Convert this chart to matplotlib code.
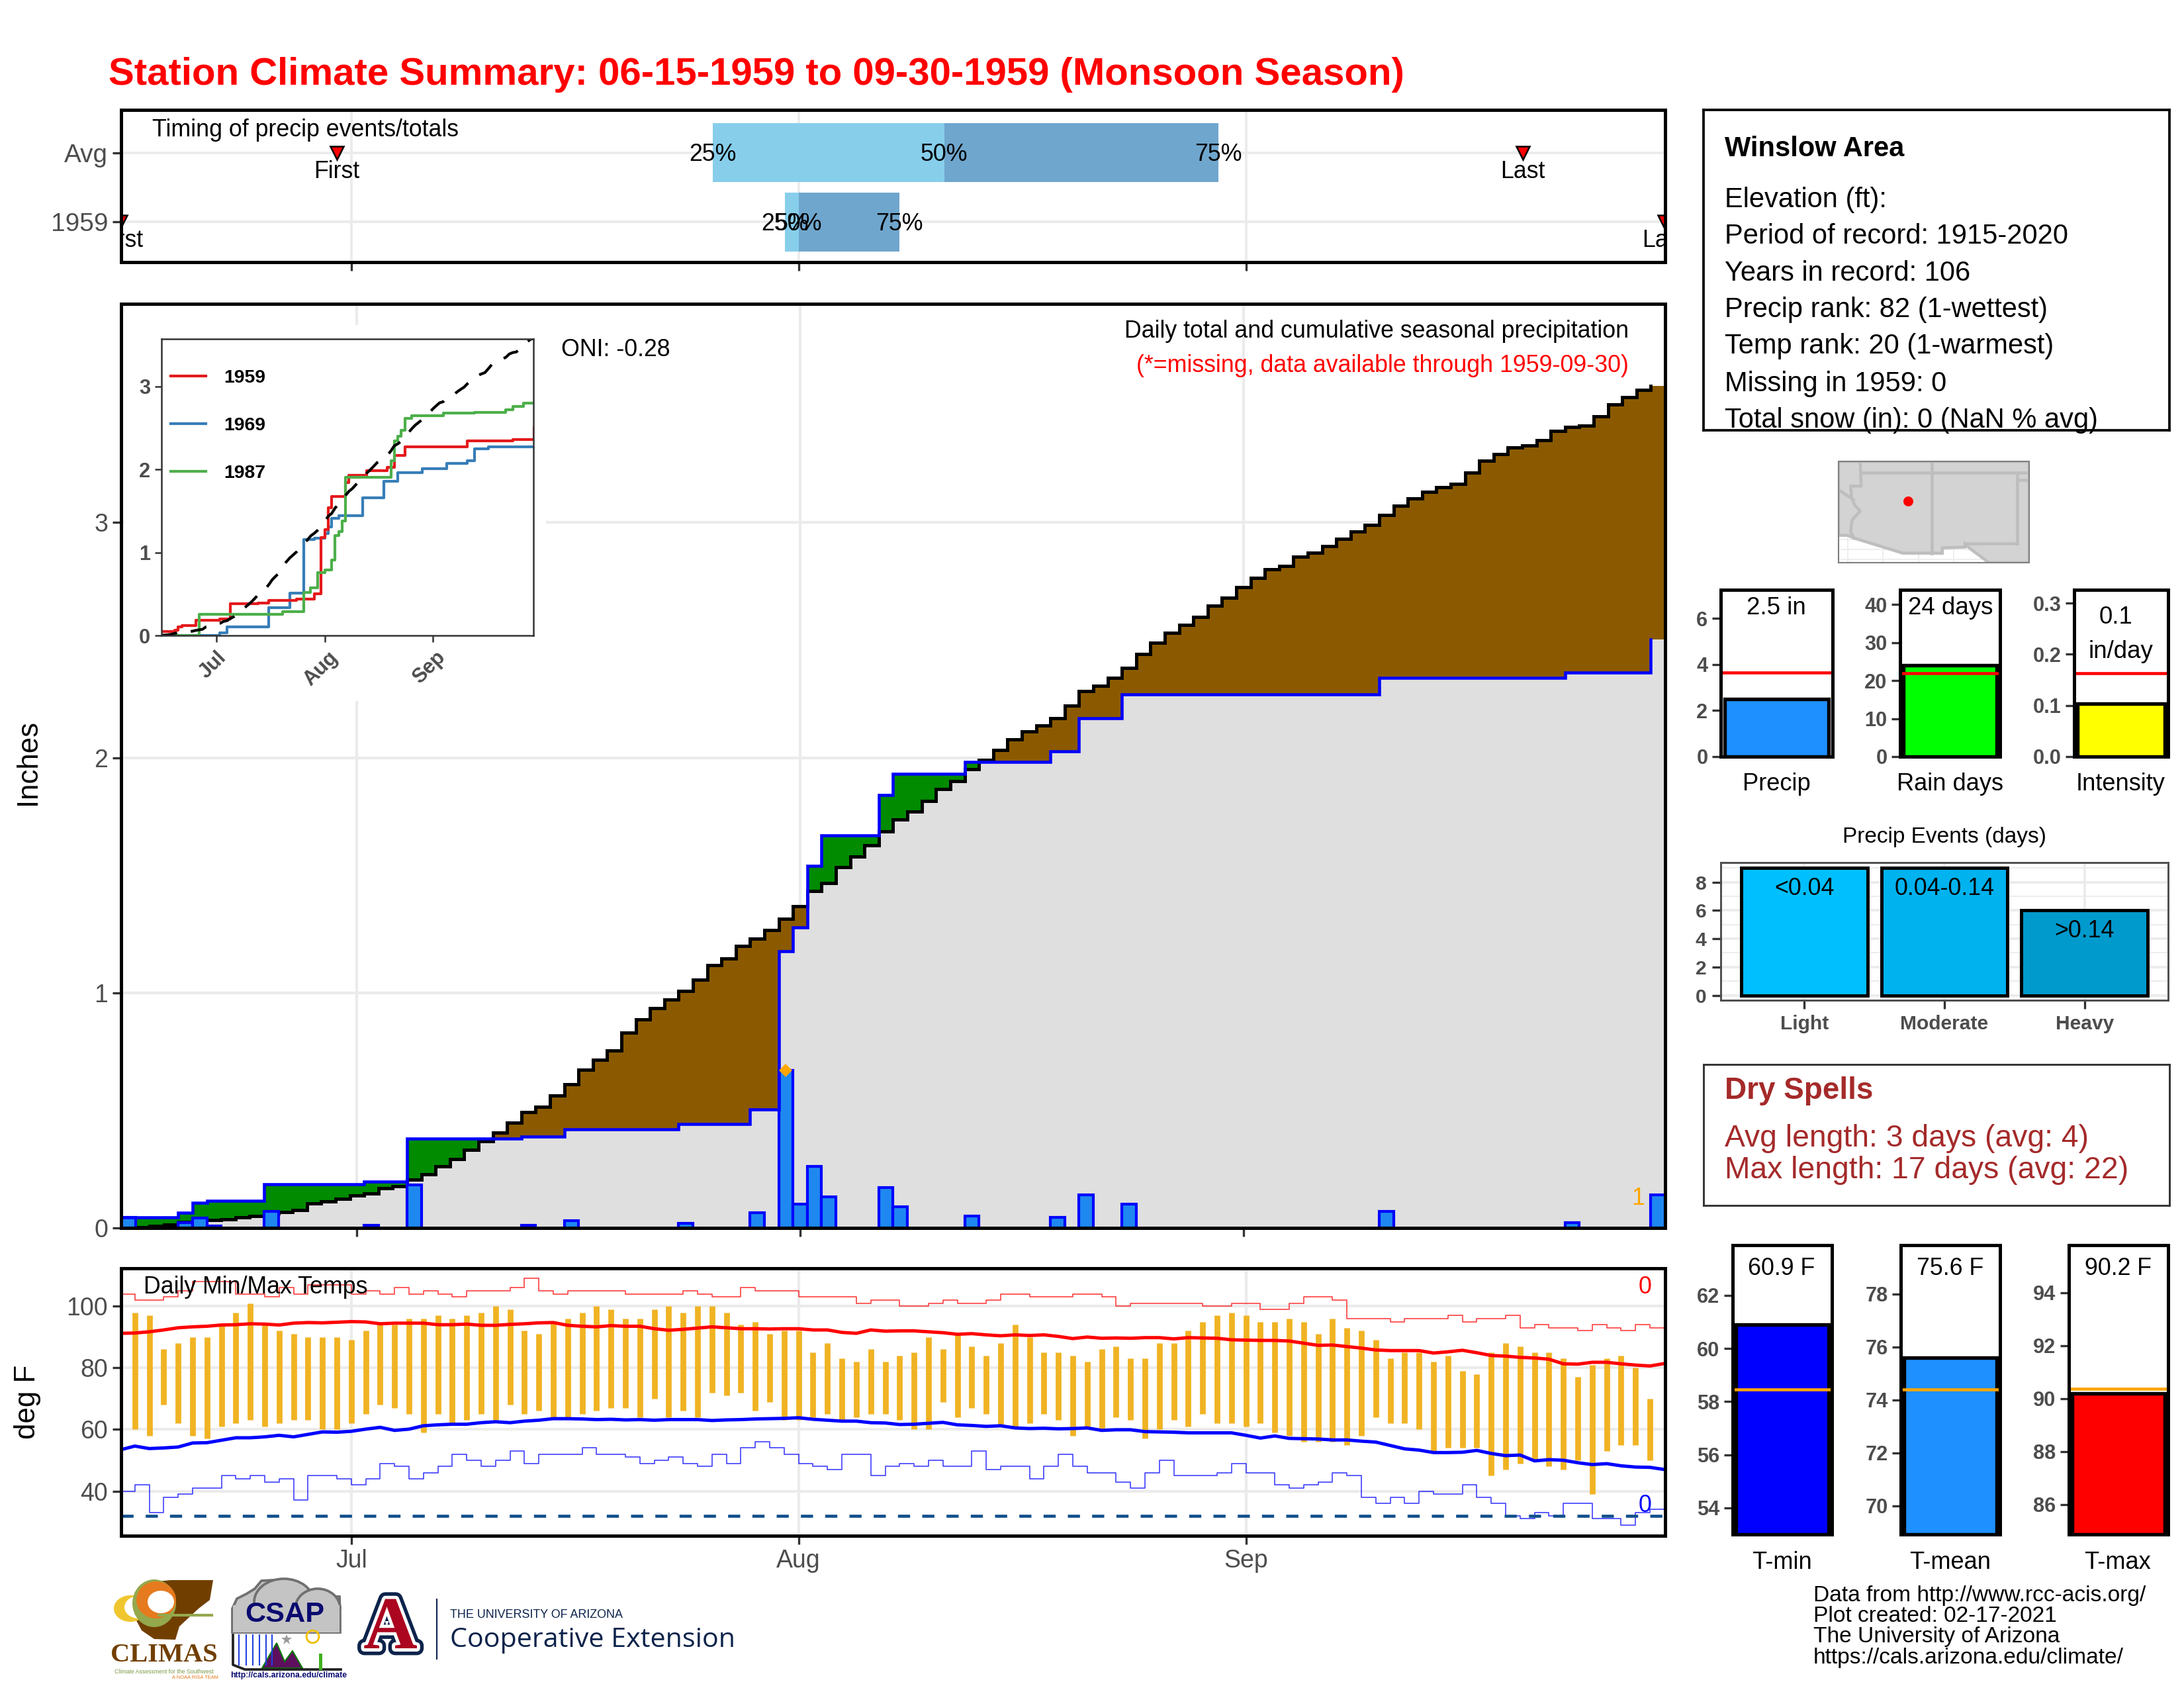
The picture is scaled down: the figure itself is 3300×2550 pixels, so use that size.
#! /usr/bin/python3
import numpy as np
import matplotlib
matplotlib.use("Agg")
import matplotlib.pyplot as plt
import matplotlib.patheffects as pe
from matplotlib.patches import Polygon, Ellipse, Rectangle
from matplotlib.transforms import ScaledTranslation

plt.rcParams['font.family'] = ['Liberation Sans', 'DejaVu Sans']

W, H = 3300, 2550

# days are counted from Jun 15 (day 0), Sep 30 is day 107
days = np.arange(108)
month_days = [16, 47, 78]
month_labels = ['Jul', 'Aug', 'Sep']

# daily precip, 1959
wet_days = [0, 4, 5, 6, 10, 17, 20, 28, 31, 39, 44, 46, 47, 48, 49, 53, 54, 59, 65, 67, 70, 88, 101, 107]
wet_amounts = [.044, .022, .041, .009, .071, .010, .182, .010, .031, .021, .064, .671, .102, .261, .131,
               .171, .091, .051, .044, .141, .100, .071, .022, .141]

# long term average cumulative precip
avg_cum = [.002, .004, .008, .014, .025, .035, .035, .038, .045, .051,
           .061, .068, .075, .105, .113, .124, .137, .146, .169, .178,
           .206, .227, .263, .292, .332, .368, .404, .447, .492, .514,
           .563, .612, .673, .715, .755, .830, .886, .934, .971, 1.008,
           1.057, 1.119, 1.146, 1.199, 1.229, 1.267, 1.315, 1.367, 1.434, 1.468,
           1.534, 1.579, 1.626, 1.687, 1.736, 1.771, 1.817, 1.867, 1.901, 1.952,
           1.991, 2.033, 2.079, 2.110, 2.137, 2.168, 2.221, 2.284, 2.307, 2.340,
           2.383, 2.440, 2.489, 2.532, 2.566, 2.598, 2.647, 2.680, 2.726, 2.765,
           2.801, 2.814, 2.854, 2.871, 2.899, 2.932, 2.962, 2.989, 3.032, 3.071,
           3.103, 3.131, 3.149, 3.165, 3.213, 3.264, 3.291, 3.320, 3.328, 3.349,
           3.389, 3.406, 3.413, 3.452, 3.501, 3.532, 3.563, 3.580]

# analog years for the inset, day of change and new total
y1969_days = [0, 17, 19, 31, 37, 41, 44, 47, 48, 49, 51, 58, 64, 68, 75, 82, 88, 90, 94, 107]
y1969_vals = [0, .03, .10, .335, .51, 1.156, 1.175, 1.23, 1.31, 1.41, 1.445, 1.66, 1.86, 1.96, 2.01, 2.07, 2.10, 2.25, 2.275, 2.275]
y1987_days = [0, 11, 35, 41, 43, 45, 47, 49, 50, 51, 52, 53, 66, 67, 68, 69, 70, 72, 81, 90, 99, 101, 104, 107]
y1987_vals = [0, .257, .29, .52, .57, .757, .79, .91, 1.206, 1.25, 1.376, 1.908, 2.10, 2.34, 2.40, 2.47, 2.615, 2.647, 2.674, 2.688, 2.72, 2.76, 2.80, 2.80]

# daily temps
nan = float('nan')
tmax = [nan, 98, 97, 86, 88, 90, 90, 94, 98, 101, 94,
        92, 91, 90, 90, 90, 89, 92, 95, 94, 96,
        96, 97, 96, 97, 98, 100, 99, 92, 91, 95,
        96, 98, 100, 99, 96, 96, 99, 100, 98, 100,
        100, 98, 94, 95, 91, 92, 92, 85, 88, 83,
        82, 86, 82, 84, 85, 90, 86, 91, 87, 84,
        88, 94, 90, 85, 85, 84, 82, 86, 87, 83,
        83, 88, 88, 92, 95, 97, 98, 97, 95, 95,
        96, 95, 91, 96, 93, 92, 89, 83, 85, 85,
        82, 84, 79, 78, 85, 88, 87, 85, 85, 83,
        77, 81, 83, 84, 80, 70, nan]
tmin = [nan, 60, 58, 68, 62, 58, 57, 61, 62, 63, 61,
        62, 63, 63, 60, 60, 62, 65, 68, 67, 65,
        59, 65, 62, 63, 65, 63, 68, 65, 66, 64,
        64, 65, 66, 67, 67, 64, 70, 64, 66, 64,
        72, 71, 72, 66, 69, 63, 63, 64, 65, 63,
        64, 65, 65, 63, 60, 60, 69, 64, 67, 65,
        61, 61, 62, 65, 63, 58, 60, 60, 64, 63,
        57, 60, 63, 61, 65, 62, 62, 61, 62, 59,
        58, 56, 56, 56, 55, 58, 64, 62, 62, 60,
        53, 54, 54, 54, 45, 47, 49, 50, 48, 47,
        50, 39, 53, 55, 55, 50, nan]
avg_tmax = [91.2, 91.3, 91.7, 92.3, 93.0, 93.3, 93.5, 93.9, 94.0, 94.3,
            94.2, 93.9, 94.5, 94.7, 94.6, 94.8, 95.0, 94.9, 94.3, 94.5,
            94.5, 94.5, 94.0, 94.0, 94.2, 93.8, 93.8, 94.1, 94.3, 94.6,
            94.7, 93.8, 93.5, 93.3, 93.7, 93.5, 93.5, 92.7, 92.2, 92.5,
            92.9, 93.3, 93.0, 92.7, 92.7, 92.6, 92.7, 92.7, 92.3, 92.3,
            91.5, 91.2, 92.3, 91.9, 92.0, 92.0, 91.7, 91.4, 90.9, 91.1,
            90.7, 90.4, 90.7, 90.5, 90.7, 90.2, 89.5, 90.0, 89.6, 89.7,
            89.6, 89.8, 89.8, 89.4, 89.8, 89.7, 89.6, 89.1, 89.0, 88.9,
            88.9, 88.7, 88.0, 87.3, 87.4, 86.9, 86.4, 85.8, 85.6, 85.6,
            85.6, 84.8, 85.2, 85.7, 84.9, 84.0, 83.8, 83.4, 83.2, 82.8,
            81.3, 81.2, 81.8, 81.8, 81.3, 80.9, 80.6, 81.4]
avg_tmin = [53.4, 54.6, 53.8, 54.0, 54.3, 55.6, 55.7, 56.5, 57.3, 57.3,
            57.6, 58.1, 57.6, 58.4, 59.2, 59.1, 59.4, 60.1, 60.7, 59.7,
            60.1, 61.2, 61.5, 61.7, 61.7, 62.2, 62.5, 62.2, 62.7, 63.0,
            63.5, 63.5, 63.4, 63.2, 63.3, 63.1, 63.2, 63.0, 63.2, 63.2,
            63.2, 62.9, 63.1, 63.2, 63.4, 63.5, 63.6, 63.8, 63.3, 63.0,
            62.7, 62.7, 62.2, 62.1, 61.6, 61.7, 62.0, 62.3, 61.5, 61.3,
            61.0, 61.2, 60.5, 60.3, 60.4, 60.2, 60.3, 60.5, 59.7, 59.9,
            59.9, 59.3, 59.2, 59.1, 58.9, 58.9, 58.9, 58.9, 58.1, 57.2,
            57.9, 57.1, 57.0, 56.9, 56.6, 56.6, 56.2, 55.9, 54.8, 53.7,
            53.3, 52.5, 52.5, 52.6, 53.2, 52.2, 51.5, 51.7, 49.8, 50.2,
            50.0, 49.2, 48.6, 48.9, 48.2, 47.8, 47.7, 47.0]
rec_hi = [104, 102, 102, 103, 105, 108, 108, 108, 104, 104,
          103, 106, 104, 107, 107, 107, 104, 105, 104, 106,
          104, 105, 104, 103, 105, 105, 105, 106, 109, 105,
          104, 105, 105, 105, 105, 104, 104, 104, 104, 105,
          104, 103, 103, 106, 105, 105, 105, 103, 103, 103,
          103, 101, 102, 102, 100, 100, 101, 102, 101, 101,
          102, 104, 104, 103, 103, 103, 104, 104, 103, 100,
          101, 101, 101, 101, 101, 100, 100, 101, 101, 99,
          99, 101, 103, 103, 102, 96, 96, 96, 95, 96,
          96, 96, 97, 95, 96, 96, 97, 93, 94, 93,
          93, 92, 94, 93, 92, 94, 93, 93]
rec_lo = [40, 42, 33, 38, 39, 41, 41, 45, 44, 45,
          43, 44, 37, 45, 45, 44, 42, 44, 49, 48,
          44, 46, 48, 52, 50, 48, 50, 53, 49, 52,
          52, 52, 54, 52, 52, 51, 49, 50, 51, 49,
          48, 52, 49, 54, 56, 54, 52, 49, 48, 47,
          52, 52, 45, 48, 49, 48, 50, 48, 48, 53,
          47, 48, 48, 44, 48, 52, 48, 46, 46, 43,
          41, 46, 50, 45, 45, 45, 46, 49, 46, 46,
          42, 41, 42, 43, 46, 45, 38, 36, 38, 36,
          40, 39, 39, 42, 38, 36, 32, 31, 33, 32,
          36, 36, 31, 31, 29, 33, 34, 34]
freeze_line = 32

# timing panel, quartiles and first/last events
timing_rows = ['1959', 'Avg']
q25 = [46.05, 41.04]
q50 = [47.0, 57.09]
q75 = [54.0, 76.1]
first_day = [0, 15]
last_day = [107, 97.2]

# summary bars
summary_names = ['Precip', 'Rain days', 'Intensity']
summary_vals = [2.5, 24, 0.103]
summary_avg = [3.64, 22.0, 0.163]
temp_names = ['T-min', 'T-mean', 'T-max']
temp_vals = [60.9, 75.6, 90.2]
temp_avg = [58.45, 74.4, 90.37]
event_names = ['Light', 'Moderate', 'Heavy']
event_vals = [9, 9, 6]
event_labels = ['<0.04', '0.04-0.14', '>0.14']

# map outline, lon/lat
land_lon = [-115.66, -115.0, -114.58, -111.1, -108.3, -108.3, -106.7, -106.7, -106.27, -105.0, -102.15, -102.15, -115.66]
land_lat = [32.59, 32.59, 32.4, 31.33, 31.33, 31.7, 31.76, 31.98, 31.6, 30.66, 30.66, 37.8, 37.8]
river_lon = [-114.13, -114.05, -114.8, -114.74, -114.5, -114.13, -114.7, -114.8, -114.58]
river_lat = [37.8, 36.06, 36.06, 35.26, 34.7, 34.3, 33.66, 32.85, 32.4]
station_lon, station_lat = -110.72, 35.02

GRID = '#EBEBEB'
TICK = '#333333'
LAB = '#4D4D4D'


def axes_px(x0, y0, x1, y1, **kw):
    # axes from pixel box, y counted from the top of the picture
    return fig.add_axes([x0 / W, 1 - y1 / H, (x1 - x0) / W, (y1 - y0) / H], **kw)


def text_px(x, y, s, **kw):
    kw.setdefault('va', 'center')
    kw.setdefault('ha', 'left')
    kw.setdefault('color', 'black')
    kw.setdefault('fontsize', 8.6)
    return fig.text(x / W, 1 - (y + 4) / H, s, **kw)


def frame(ax, lw=1.2, color='black'):
    for s in ax.spines.values():
        s.set_linewidth(lw)
        s.set_color(color)
        s.set_zorder(10)


def mid_step(vals):
    # step through day centres, last day has no flat part
    edges = np.arange(109) - 0.5
    x = np.r_[-0.5, np.repeat(edges[1:-1], 2)]
    y = np.repeat(vals, 2)[:-1]
    return x, y


fig = plt.figure(figsize=(11, 8.5), dpi=300)

text_px(164, 109, 'Station Climate Summary: 06-15-1959 to 09-30-1959 (Monsoon Season)',
        color='#FF0000', fontweight='bold', fontsize=13.95)

# ---- timing panel
ax = axes_px(183, 166, 2516, 396)
ax.set_xlim(0.05, 107.05)
ax.set_ylim(0.42, 2.62)
ax.set_axisbelow(True)
ax.grid(True, color=GRID, lw=0.9)
rows = np.arange(1, 3)
ax.barh(rows, np.array(q50) - np.array(q25), left=q25, height=0.85, color='#87CEEB', zorder=2)
ax.barh(rows, np.array(q75) - np.array(q50), left=q50, height=0.85, color='#6FA6CD', zorder=2)
for i, r in enumerate(rows):
    for q, lab in zip((q25[i], q50[i], q75[i]), ('25%', '50%', '75%')):
        ax.text(q, r - 0.03, lab, ha='center', va='center', fontsize=8.6, zorder=4)
    for d, lab in zip((first_day[i], last_day[i]), ('First', 'Last')):
        ax.plot(d, r, 'v', color='red', mec='black', mew=0.6, ms=5, zorder=5, clip_on=True)
        ax.text(d, r - 0.27, lab, ha='center', va='center', fontsize=8.6, zorder=4, clip_on=True)
ax.set_yticks(rows, timing_rows, color=LAB, fontsize=9.3)
ax.set_xticks(month_days, [])
ax.tick_params(color=TICK, width=0.8, length=3.2, pad=1.6)
frame(ax)
text_px(230, 193, 'Timing of precip events/totals')

# ---- main precip panel
obs_daily = np.zeros(108)
obs_daily[wet_days] = wet_amounts
obs_cum = np.cumsum(obs_daily)
avg_cum = np.array(avg_cum)
low = np.minimum(obs_cum, avg_cum)
edges = np.arange(109) - 0.5

ax = axes_px(183, 459, 2516, 1855)
ax.set_xlim(-0.5, 107.5)
ax.set_ylim(0, 3.93)
ax.set_axisbelow(True)
ax.grid(True, color=GRID, lw=1.0)
ax.fill_between(edges, 0, np.r_[low, low[-1]], step='post', color='#DFDFDF', lw=0, zorder=1)
ax.fill_between(edges, np.r_[low, low[-1]], np.r_[avg_cum, avg_cum[-1]], step='post', color='#8B5A00', lw=0, zorder=1.5)
ax.fill_between(edges, np.r_[low, low[-1]], np.r_[obs_cum, obs_cum[-1]], step='post', color='#008B00', lw=0, zorder=1.5)
x, y = mid_step(avg_cum)
ax.plot(x, y, color='black', lw=1.2, zorder=3, solid_joinstyle='miter')
ax.bar(wet_days, wet_amounts, width=1, color='#1E88F0', edgecolor='blue', lw=1.0, zorder=4)
x, y = mid_step(obs_cum)
ax.plot(x, y, color='blue', lw=1.1, zorder=5, solid_joinstyle='miter')
ax.plot(days[np.argmax(obs_daily)], obs_daily.max(), 'D', color='orange', ms=3.4, mew=0, zorder=6)
ax.set_yticks([0, 1, 2, 3])
ax.set_xticks(month_days, [])
ax.tick_params(color=TICK, width=0.8, length=3.2, pad=1.6, labelcolor=LAB, labelsize=9)
frame(ax)
text_px(848, 524, 'ONI: -0.28')
text_px(2461, 497, 'Daily total and cumulative seasonal precipitation', ha='right')
text_px(2461, 549, '(*=missing, data available through 1959-09-30)', ha='right', color='red')
text_px(2475, 1806, '1', color='orange', ha='center')
text_px(42, 1148, 'Inches', rotation=90, ha='center', fontsize=10.5)

# inset sits on a white block that hides the grid
blank = axes_px(187, 491, 825, 1059)
blank.axis('off')
blank.add_patch(Rectangle((0, 0), 1, 1, color='white', transform=blank.transAxes))

ins = axes_px(244, 512, 806, 960)
ins.set_xlim(0.2, 106.9)
ins.set_ylim(0, 3.57)
ins.plot(days, avg_cum, color='black', lw=1.0, ls=(0, (6, 5)), zorder=4)
ins.step(days, obs_cum, where='post', color='#E41A1C', lw=1.0, label='1959', zorder=3)
ins.step(y1969_days, y1969_vals, where='post', color='#377EB8', lw=1.0, label='1969', zorder=2)
ins.step(y1987_days, y1987_vals, where='post', color='#4DAF4A', lw=1.0, label='1987', zorder=3)
ins.set_yticks([0, 1, 2, 3])
ins.set_xticks(month_days, month_labels, rotation=45)
ins.tick_params(color=TICK, width=0.6, length=2.5, labelcolor=LAB, labelsize=7.4, pad=1.5)
for t in ins.get_xticklabels() + ins.get_yticklabels():
    t.set_fontweight('bold')
for t in ins.get_xticklabels():
    t.set_transform(t.get_transform() + ScaledTranslation(-1.4 / 72, -0.4 / 72, fig.dpi_scale_trans))
frame(ins, lw=0.6, color='#333333')
ins.legend(loc='upper left', frameon=False, prop={'size': 6.8, 'weight': 'bold'}, handlelength=1.87,
           labelspacing=1.62, bbox_to_anchor=(-0.015, 0.948), borderaxespad=0.4, handletextpad=0.95)

# ---- temperature panel
ax = axes_px(183, 1916, 2516, 2320)
ax.set_xlim(0.05, 107.05)
ax.set_ylim(25.5, 112.3)
ax.set_axisbelow(True)
ax.grid(True, color=GRID, lw=1.0)
ax.vlines(days, tmin, tmax, color='#F0B323', lw=2.1, zorder=2, capstyle='butt')
ax.step(days, rec_hi, where='post', color='red', lw=0.4, alpha=0.75, zorder=3)
ax.step(days, rec_lo, where='post', color='blue', lw=0.4, alpha=0.75, zorder=3)
ax.plot(days, avg_tmax, color='red', lw=1.2, zorder=4)
ax.plot(days, avg_tmin, color='blue', lw=1.2, zorder=4)
ax.axhline(freeze_line, color='#104E8B', lw=1.1, ls=(0, (4, 4)), zorder=3)
ax.set_yticks([40, 60, 80, 100])
ax.set_xticks(month_days, month_labels)
ax.tick_params(color=TICK, width=0.8, length=3.2, pad=1.6, labelcolor=LAB, labelsize=9)
frame(ax)
text_px(217, 1941, 'Daily Min/Max Temps')
text_px(2486, 1941, '0', color='red', ha='center')
text_px(2486, 2271, '0', color='blue', ha='center')
text_px(42, 2114, 'deg F', rotation=90, ha='center', fontsize=10.5)

# ---- station info box
ax = axes_px(2574, 166, 3278, 650)
ax.set_xticks([])
ax.set_yticks([])
frame(ax, lw=0.9)
text_px(2606, 221, 'Winslow Area', fontweight='bold', fontsize=10)
info_lines = ['Elevation (ft):', 'Period of record: 1915-2020', 'Years in record: 106',
              'Precip rank: 82 (1-wettest)', 'Temp rank: 20 (1-warmest)', 'Missing in 1959: 0',
              'Total snow (in): 0 (NaN % avg)']
info_y = [299, 354, 410, 465, 520, 577, 632]
for s, y in zip(info_lines, info_y):
    text_px(2606, y - 1, s, fontsize=10)

# ---- locator map
ax = axes_px(2778, 697, 3066, 850)
ax.set_xlim(-115.66, -102.15)
ax.set_ylim(30.66, 37.8)
ax.set_xticks([])
ax.set_yticks([])
for g in np.arange(-115, -102, 2.5):
    ax.axvline(g, color='#EBEBEB', lw=0.4, zorder=0)
for g in (30.9, 31.6, 32.3):
    ax.axhline(g, color='#EBEBEB', lw=0.4, zorder=0)
ax.add_patch(Polygon(np.c_[land_lon, land_lat], fc='#D3D3D3', ec='#BEBEBE', lw=1.1, zorder=1))
ax.plot(river_lon, river_lat, color='#BEBEBE', lw=1.1, zorder=2)
ax.plot([-115.66, -114.6], [35.8, 35.1], color='#BEBEBE', lw=1.1, zorder=2)
ax.plot([-114.05, -102.15], [37, 37], color='#BEBEBE', lw=1.1, zorder=2)
ax.plot([-109.05, -109.05], [37.8, 31.33], color='#BEBEBE', lw=1.1, zorder=2)
ax.plot([-103.0, -103.0], [37, 32], color='#BEBEBE', lw=1.1, zorder=2)
ax.plot([-106.7, -103.0], [32, 32], color='#BEBEBE', lw=1.1, zorder=2)
ax.plot([-103.0, -102.15], [36.5, 36.5], color='#BEBEBE', lw=1.1, zorder=2)
ax.plot(station_lon, station_lat, 'o', color='red', ms=3.6, mew=0, zorder=3)
frame(ax, lw=0.5, color='#7F7F7F')


def small_bar(box, ylim, val, avg, ticks, bar_color, line_color, name, name_x, name_y, tick_fmt='%g'):
    ax = axes_px(*box)
    ax.set_xlim(0.5, 1.5)
    ax.set_ylim(*ylim)
    ax.bar([1], [val - ylim[0]], width=0.93, bottom=ylim[0], color=bar_color, edgecolor='black', lw=1.3, zorder=2)
    ax.axhline(avg, color=line_color, lw=1.1, zorder=3)
    ax.set_xticks([])
    ax.set_yticks(ticks, [tick_fmt % t for t in ticks], fontweight='bold')
    ax.tick_params(color=TICK, width=0.8, length=3.2, labelcolor=LAB, labelsize=7.4, pad=1.5)
    frame(ax)
    text_px(name_x, name_y, name, ha='center', fontsize=8.7)
    return ax


# ---- precip summary bars
small_bar((2600, 891, 2769, 1143), (0, 7.25), summary_vals[0], summary_avg[0], [0, 2, 4, 6],
          '#1E90FF', 'red', summary_names[0], 2684, 1181)
small_bar((2871, 891, 3022, 1143), (0, 43.9), summary_vals[1], summary_avg[1], [0, 10, 20, 30, 40],
          '#00FF00', 'red', summary_names[1], 2947, 1181)
small_bar((3134, 891, 3276, 1143), (0, 0.326), summary_vals[2], summary_avg[2], [0, 0.1, 0.2, 0.3],
          '#FFFF00', 'red', summary_names[2], 3204, 1181, tick_fmt='%.1f')
text_px(2684, 915, '2.5 in', ha='center', fontsize=8.8)
text_px(2947, 915, '24 days', ha='center', fontsize=8.8)
text_px(3197, 928, '0.1', ha='center', fontsize=8.8)
text_px(3204, 980, 'in/day', ha='center', fontsize=8.8)

# ---- precip events
ax = axes_px(2600, 1303, 3276, 1511)
ax.set_xlim(0.404, 3.596)
ax.set_ylim(-0.35, 9.38)
ax.set_axisbelow(True)
ax.set_yticks(np.arange(1, 10, 2), minor=True)
ax.grid(True, which='major', color=GRID, lw=0.9)
ax.grid(True, which='minor', axis='y', color=GRID, lw=0.45)
pos = np.arange(1, 4)
ax.bar(pos, event_vals, width=0.9, color=['#00BFFF', '#00B2EE', '#009ACD'], edgecolor='black', lw=1.2, zorder=2)
for p, v, s in zip(pos, event_vals, event_labels):
    ax.text(p, v - 1.45, s, ha='center', va='center', fontsize=8.6, zorder=3)
ax.set_xticks(pos, event_names, fontweight='bold')
ax.set_yticks([0, 2, 4, 6, 8], ['0', '2', '4', '6', '8'], fontweight='bold')
ax.tick_params(which='major', color=TICK, width=0.8, length=3.2, labelcolor=LAB, labelsize=7.2, pad=2)
ax.tick_params(which='minor', length=0)
frame(ax, lw=0.7, color='#4D4D4D')
text_px(2938, 1261, 'Precip Events (days)', ha='center', fontsize=8)

# ---- dry spells box
ax = axes_px(2574, 1608, 3278, 1821)
ax.set_xticks([])
ax.set_yticks([])
frame(ax, lw=0.7, color='#333333')
text_px(2606, 1644, 'Dry Spells', color='#A52A2A', fontweight='bold', fontsize=11)
text_px(2606, 1716, 'Avg length: 3 days (avg: 4)', color='#A52A2A', fontsize=11.1)
text_px(2606, 1764, 'Max length: 17 days (avg: 22)', color='#A52A2A', fontsize=11.1)

# ---- temperature summary bars
small_bar((2618, 1881, 2768, 2318), (53, 63.89), temp_vals[0], temp_avg[0], [54, 56, 58, 60, 62],
          '#0000FF', 'orange', temp_names[0], 2692, 2357)
small_bar((2872, 1881, 3022, 2318), (68.92, 79.84), temp_vals[1], temp_avg[1], [70, 72, 74, 76, 78],
          '#1E90FF', 'orange', temp_names[1], 2947, 2357)
small_bar((3126, 1881, 3276, 2318), (84.87, 95.8), temp_vals[2], temp_avg[2], [86, 88, 90, 92, 94],
          '#FF0000', 'orange', temp_names[2], 3200, 2357)
text_px(2692, 1912, '60.9 F', ha='center')
text_px(2947, 1912, '75.6 F', ha='center')
text_px(3200, 1912, '90.2 F', ha='center')

# ---- footer
foot = ['Data from http://www.rcc-acis.org/', 'Plot created: 02-17-2021', 'The University of Arizona',
        'https://cals.arizona.edu/climate/']
for s, y in zip(foot, [2406, 2437, 2469, 2501]):
    text_px(2740, y, s, fontsize=8.05)

# ---- logos, only rough shapes and real text
lg = fig.add_axes([0, 0, 1, 1], zorder=-1)
lg.set_xlim(0, W)
lg.set_ylim(H, 0)
lg.axis('off')

# CLIMAS
lg.add_patch(Polygon([(258, 2387), (322, 2387), (317, 2417), (300, 2430), (271, 2457), (265, 2477),
                      (233, 2476), (214, 2463), (198, 2433), (207, 2407), (226, 2390)], fc='#703F00', ec='none'))
lg.add_patch(Ellipse((197, 2430), 50, 40, fc='#F0C62E', ec='none', zorder=1))
lg.add_patch(Ellipse((210, 2428), 44, 34, fc='white', ec='none', zorder=1.1))
lg.add_patch(Ellipse((233, 2422), 66, 72, fc='#94A84C', ec='none', zorder=1.2))
lg.add_patch(Ellipse((236, 2417), 60, 56, fc='#E57A1E', ec='none', zorder=1.3))
lg.add_patch(Ellipse((243, 2420), 40, 34, fc='white', ec='none', zorder=1.4))
lg.plot([240, 320], [2440, 2440], color='#94A84C', lw=1, zorder=1.5)
text_px(248, 2497, 'CLIMAS', ha='center', color='#703F00', fontsize=9.7, fontweight='bold', family='Liberation Serif')
text_px(248, 2521, 'Climate Assessment for the Southwest', ha='center', color='#7F9A4A', fontsize=2.1)
text_px(295, 2530, 'A NOAA RISA TEAM', ha='center', color='#E57A1E', fontsize=1.8)

# CSAP
lg.add_patch(Polygon([(351, 2466), (351, 2430), (358, 2415), (372, 2408), (385, 2400), (395, 2388),
                      (412, 2387), (425, 2395), (467, 2410), (513, 2412), (514, 2440), (514, 2466)],
                     fc='#C4C4C4', ec='#707070', lw=0.9, zorder=1))
lg.add_patch(Ellipse((429, 2420), 90, 70, fc='#C4C4C4', ec='#707070', lw=0.9, zorder=1))
lg.add_patch(Ellipse((480, 2430), 68, 60, fc='#C4C4C4', ec='#707070', lw=0.9, zorder=1))
lg.add_patch(Rectangle((352, 2425), 161, 41, fc='#C4C4C4', ec='none', zorder=1.2))
text_px(430, 2435, 'CSAP', ha='center', color='#0A0A70', fontsize=10.4, fontweight='bold', zorder=3)
for xx in (361, 372, 382, 392, 402, 411):
    lg.plot([xx, xx], [2470, 2515], color='#2040E0', lw=0.5)
lg.plot([352, 352, 370, 515], [2470, 2515, 2522, 2522], color='#222222', lw=0.9)
lg.add_patch(Polygon([(396, 2520), (418, 2482), (430, 2510), (442, 2494), (457, 2520)], fc='#5E0F5E', ec='#0B7A0B', lw=0.5))
lg.plot([484, 484], [2500, 2520], color='#40B020', lw=1.2)
lg.plot(433, 2477, '*', color='#9A9A9A', ms=4, mew=0)
lg.plot(472, 2472, 'o', mfc='none', mec='#F0C000', ms=4.5, mew=0.7)
text_px(436, 2527, 'http://cals.arizona.edu/climate', ha='center', color='#0A0A70', fontsize=2.95, fontweight='bold')

# Arizona extension
text_px(590, 2459, 'A', ha='center', color='#AB0520', fontsize=27, fontweight='bold', family='Liberation Serif',
        path_effects=[pe.withStroke(linewidth=5.0, foreground='#0C234B'), pe.withStroke(linewidth=2.4, foreground='white'),
                      pe.Normal()])
lg.plot([660, 660], [2416, 2506], color='#0C234B', lw=0.5)
text_px(680, 2436, 'THE UNIVERSITY OF ARIZONA', color='#0C234B', fontsize=4.3)
text_px(680, 2474, 'Cooperative Extension', color='#0C234B', fontsize=9.9, family='Open Sans')

fig.savefig('out.png', dpi=300)
